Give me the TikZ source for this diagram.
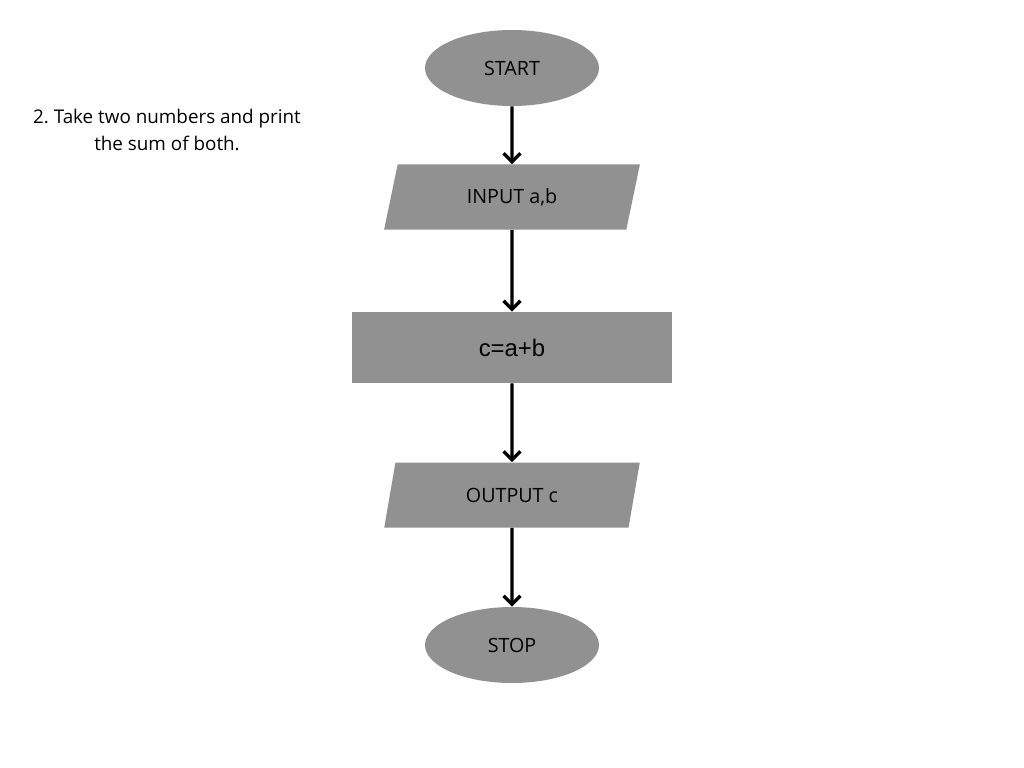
\documentclass[tikz,border=0pt]{standalone}
\usepackage{fontspec}
\setmainfont{Open Sans}
\newfontfamily\arialfont{Liberation Sans}
\usetikzlibrary{shapes.geometric,arrows.meta}
\frenchspacing

\begin{document}
\begin{tikzpicture}[x=0.025cm, y=-0.025cm,
        term/.style={draw=none, ellipse, fill=flowgray, minimum width=174*0.025cm, minimum height=76*0.025cm, inner sep=0pt, font=\fontsize{14}{17}\selectfont},
        io/.style={draw=none, trapezium, trapezium left angle=73, trapezium right angle=107, trapezium stretches=true, fill=flowgray, minimum width=256*0.025cm, minimum height=65*0.025cm, inner sep=0pt, font=\fontsize{14}{17}\selectfont},
        process/.style={draw=none, rectangle, fill=flowgray, minimum width=320*0.025cm, minimum height=71*0.025cm, inner sep=0pt, font=\arialfont\fontsize{17}{20}\selectfont},
        flow/.style={-{Straight Barb[length=6pt, width=12pt, line width=2.4pt]}, line width=2.2pt, black}]
        \definecolor{flowgray}{RGB}{145,145,145}
        \useasboundingbox (0,0) rectangle (1024,768);

        % Task statement
        \node[align=center, font=\fontsize{13.4}{19}\selectfont] (task) at (167,130) {2. Take two numbers and print\\the sum of both.};

        % Flowchart shapes
        \node[term] (start) at (512,68) {START};
        \node[io] (input) at (512,197) {INPUT a,b};
        \node[process] (sum) at (512,347.5) {c=a+b};
        \node[io] (output) at (512,495) {OUTPUT c};
        \node[term] (stop) at (512,645) {STOP};

        % Arrows
        \draw[flow] (start) -- (input);
        \draw[flow] (input) -- (sum);
        \draw[flow] (sum) -- (output);
        \draw[flow] (output) -- (stop);
    \end{tikzpicture}
\end{document}
